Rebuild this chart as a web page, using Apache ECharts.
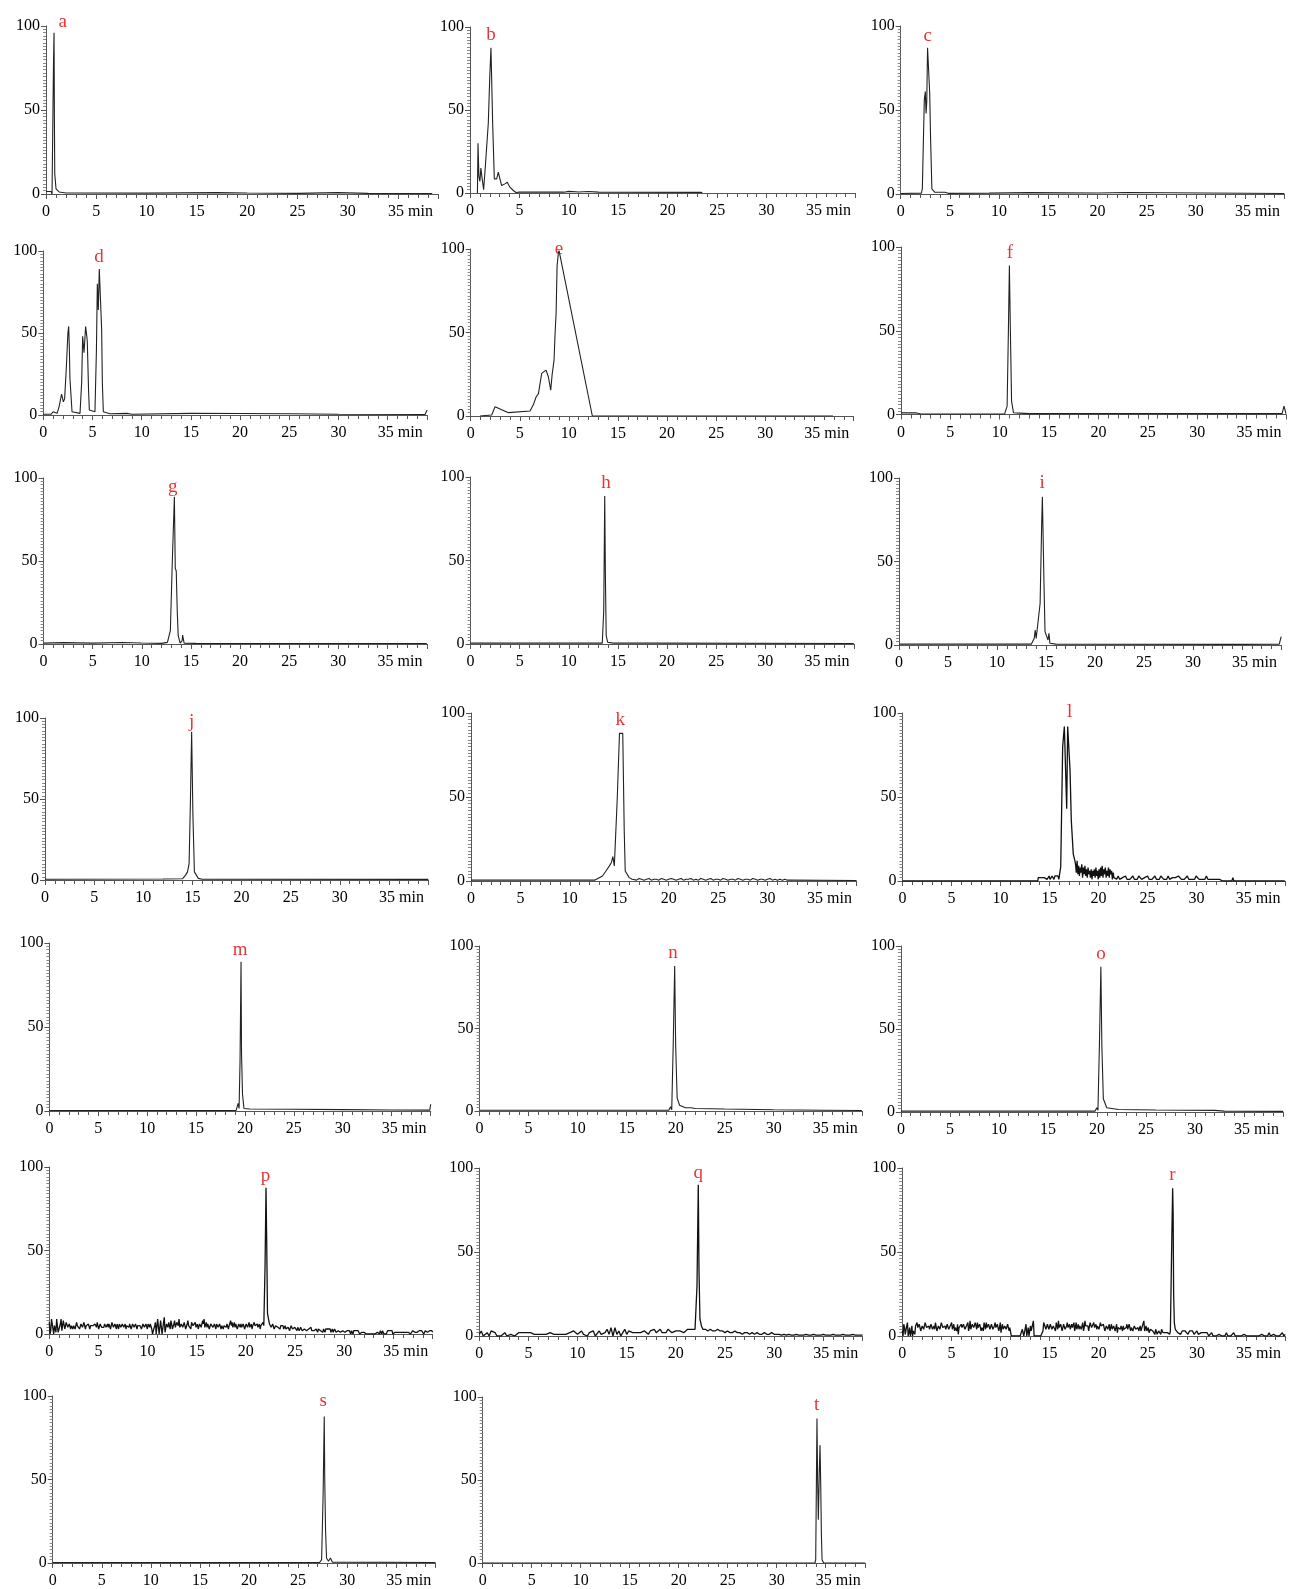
<!DOCTYPE html>
<html><head><meta charset="utf-8">
<script src="https://cdn.jsdelivr.net/npm/echarts@6/dist/echarts.min.js"></script>
<style>html,body{margin:0;padding:0;background:#fff}#c{width:1290px;height:1589px}</style>
</head><body><div id="c"></div>
<script>
// ---------- DATA ----------
const letters = ['a','b','c','d','e','f','g','h','i','j','k','l','m','n','o','p','q','r','s','t'];
const xTicks = [0,5,10,15,20,25,30,35];
const yTicks = [0,50,100];
const letterX = [1.66,2.12,2.74,5.66,9.0,11.04,13.15,13.78,14.6,14.92,15.1,17.04,19.5,19.73,20.4,22.0,22.28,27.5,27.57,34.08];
const letterY = [102.4,95.2,94.0,96.5,100,96.4,94.8,96.4,97,97.7,95.8,100.8,95.8,95.8,95.2,94.6,97,95.8,96.7,95.2];

const trace_a = [[0,1.5],[0.5,1.5],[0.6,0],[0.7,0],[0.75,80],[0.8,96],[0.84,40],[0.87,12],[1.0,3],[1.3,1.2],[2,0.6],[10,0.5],[17,0.8],[20,0.6],[25,0.4],[29,0.8],[32,0.4],[38.4,0.3]];
const trace_b = [[0.75,0],[0.81,30],[0.9,10],[1.0,7],[1.1,15],[1.2,10],[1.38,2],[1.6,20],[1.85,42],[2.0,70],[2.12,87.5],[2.3,40],[2.46,8.5],[2.7,8.5],[2.86,12.5],[3.03,11.5],[3.2,4.5],[3.53,5.5],[3.77,6.5],[4.04,3.5],[4.38,1.5],[4.65,0.3],[5,0.5],[9.5,0.5],[10,1],[11,0.6],[12,0.9],[13,0.5],[23.4,0.4],[23.5,0]];
const trace_c = [[0,0.3],[2.1,0.5],[2.2,3],[2.3,30],[2.4,56],[2.5,61],[2.58,48],[2.65,55],[2.73,87],[2.87,87],[2.95,60],[3.03,35],[3.17,3],[3.47,1],[4.49,1],[4.66,1.5],[4.83,0.4],[9,0.5],[13,0.8],[20,0.6],[23,0.9],[39,0.3]];
const trace_d = [[0,0.5],[0.8,0.5],[1.0,2],[1.2,1],[1.4,1],[1.6,5],[1.86,12.8],[2.04,8],[2.17,10],[2.35,30],[2.5,50],[2.58,54],[2.65,40],[2.71,22],[2.92,2],[3.73,1],[3.9,20],[4.0,48],[4.14,38],[4.3,54],[4.4,49],[4.47,45],[4.6,15],[4.68,3],[5.25,2],[5.4,40],[5.49,80],[5.59,64],[5.69,89],[5.82,89],[5.93,52],[6.0,20],[6.1,2],[6.77,0.8],[8.5,1],[9,0.5],[15,1],[20,0.9],[25,0.8],[30,0.5],[38.8,0.3],[39,3]];
const trace_e = [[0.95,0],[2.14,0.6],[2.48,5.6],[3.84,2],[6.05,3],[6.4,7],[6.66,11.4],[6.9,13.4],[7.06,12.4],[7.23,25.5],[7.67,27.5],[7.91,23.5],[8.15,15.5],[8.3,25],[8.49,33.5],[8.6,50],[8.7,61.5],[8.8,90],[8.93,97.4],[9.0,99],[12.39,0],[36.9,0]];
const trace_f = [[0,1],[1.5,1],[2,0.3],[10.5,0.4],[10.75,5],[10.88,50],[10.98,89],[11.08,50],[11.2,8],[11.4,1],[12,0.8],[13,0.5],[38.6,0.5],[38.8,5],[39,0.5]];
const trace_g = [[0,0.5],[2,0.8],[5,0.5],[8,0.9],[10,0.6],[12,0.4],[12.6,1],[12.9,8],[13.1,50],[13.31,88.7],[13.4,45.6],[13.5,44],[13.6,20],[13.7,5],[13.9,0.5],[14.1,2],[14.15,5.4],[14.3,0.5],[15.5,0.4],[39,0.3]];
const trace_h = [[0,0.5],[10.2,0.5],[10.4,1.2],[10.6,0.5],[13.4,0.5],[13.55,20],[13.65,88.6],[13.72,40],[13.8,5],[13.95,1],[14.5,0.5],[18.3,0.5],[18.5,1.2],[18.7,0.5],[39,0.3]];
const trace_i = [[0,0.5],[13.5,0.5],[13.8,4],[13.9,9],[14.0,4],[14.2,3],[14.4,25],[14.55,70],[14.63,88.8],[14.7,66.9],[14.8,35],[14.9,8],[15.2,3],[15.3,7],[15.4,1],[16,0.5],[35,0.4],[38.8,0.5],[39,5]];
const trace_j = [[0,0.5],[12,0.6],[14,0.8],[14.3,3],[14.5,5],[14.66,10],[14.8,50],[14.92,91.5],[15.05,40],[15.2,5],[15.6,1],[16,0.5],[39,0.4]];
const trace_k_pre = [[0,0.5],[12.5,0.5],[13.3,3],[13.6,5.5],[14.0,9],[14.2,11],[14.35,14.5],[14.5,9],[14.62,10],[14.8,50],[15.02,87.9],[15.35,87.9],[15.5,30],[15.6,6],[16.0,2],[16.3,1]];
const noise_k = [1,0.5,1.5,1,0.5,1,1.5,0.5,1,1,0.5,1.5,1,0.5,1,1.5,1,0.5,1,1.5,0.5,1,1,1.5,0.5,1,0.5,1.5,1,0.5,1,1.5,0.5,1,1,0.5,1.5,1,0.5,1,1,0.5,1.5,1,0.5,1,1,0.5,1.5,1,0.5,1,1,0.5,1,1.5,0.5,1,0.5,1,0.5,1,0.5];
const trace_k_post = [[32.2,0.5],[39,0.3]];
const trace_l_pre = [[0,0],[13.8,0]];
const noise_l1 = [2,1,3,2,1,3,2,2,3,1,2,3,1,2,3,2,1,3,2,2,3,1,2];
const trace_l_peak = [[16.14,8.5],[16.34,80],[16.51,92],[16.68,91.7],[16.75,43],[16.85,92],[16.99,92],[17.09,66],[17.22,36],[17.42,16],[17.59,12]];
const noise_l2 = [10,5,12,4,9,3,8,5,10,2,8,4,9,3,7,2,8,4,6,2,7,1,6,3,7,2,8,3,6,1,7,2,8,3,9,2,7,4,8,2,6,3,8,2,7,4,6,1,5,2];
const noise_l3 = [2,1,3,1,2,2,1,3,1,2,1,2,3,1,2,1,3,2,1,2,2,1,3,1,2,1,2,3,1,2,1,3,2,1,2,1,3,1,2,2,1,2,1,3,2,1,2,1,2,3,1,2,1,2,1,3,2,1,2,1,2,1,3,1,2,1,0,1,2,1,0,1,2,0,1,0,0];
const trace_l_post = [[33.6,0],[33.7,2],[33.8,0],[34.8,0],[34.9,1],[35,0],[39,0]];
const trace_m = [[0,0.3],[19.1,0.4],[19.3,4.6],[19.4,1.5],[19.5,30],[19.6,88.9],[19.65,35],[19.75,10],[19.9,1.5],[20.5,1.2],[25,1],[30,0.8],[35,0.6],[38.9,0.5],[39,4]];
const trace_n = [[0,0.5],[19.3,0.5],[19.48,2.6],[19.6,0.8],[19.75,40],[19.9,87.9],[20.0,40],[20.15,8],[20.4,3.5],[21,2],[21.58,2],[22,1.5],[25,1.2],[30,0.8],[35,0.5],[39,0.3]];
const trace_o = [[0,0.5],[19.8,0.5],[19.98,2.6],[20.1,1],[20.25,40],[20.4,87.5],[20.5,40],[20.65,8],[21,2.6],[22.2,1.5],[26,1.2],[32,1],[33,0.5],[39,0.4]];
const noise_p1 = [7,2,8,0,6,9,1,0,9,3, 8,5,6,4,7,5,3,6,4,5, 6,4,5,3,6,5,4,7,5,4, 5,6,4,5,3,6,5,4,6,5, 4,6,5,7,4,5,6,3,5,4, 6,5,3,5,4,6,2,5,4,6, 5,4,6,3,5,4,5,6,4,5, 0,0,7,0,10,1,9,0,10,2, 5,7,3,6,4,8,3,6,9,4, 7,3,6,4,8,5,3,6,4,7, 5,3,6,4,8,9,5,4,6,3, 5,4,6,3,5,4,6,5,3,6, 4,6,5,8,7,5,4,6,3,5, 6,4,5,3,6,5,4,6,5,7, 4,6,5,3,5,7];
const noise_p1b = [0,9,3,5,1,8,0,6,2,8, 3,7,4,6,3,6,5,3,7,4, 3,6,4,7,3,5,6,3,6,5, 4,5,7,3,6,4,3,6,4,6, 6,3,7,4,6,3,5,6,4,6, 4,6,5,4,6,3,6,4,6,3, 6,5,3,6,4,6,3,5,6,3, 0,5,0,9,0,8,0,7,1,6, 4,6,8,3,6,4,7,5,4,6, 4,7,3,6,5,4,7,5,6,4, 6,4,7,5,6,4,7,6,3,6, 6,3,5,6,4,6,3,6,5,4, 6,3,6,5,4,7,6,3,6,4, 4,6,3,6,4,7,5,3,6,5, 6,4,6,5,4,5];
const trace_p_peak = [[21.85,5],[21.95,40],[22.05,87.6],[22.12,55],[22.2,12.4],[22.3,9],[22.4,6]];
const noise_p2 = [5,4,5,3,5,4,3,5,4,3, 5,3,4,2,5,3,4,3,2,4, 3,4,2,3,4,2,3,3,2,3, 2,3,1,3,2,2,3,1,2,3, 2,1,3,2,2,1,2,3,1,2, 2,1,2,1,1,2,0,1,2,1, 1,0,1,2,0,0,0,0,0,0, 0,0,0,1,0,1,2,0,1,1, 1,2,1,0,1,2,1,1,2,1, 2,1,1,2,1,0,1,2,1,1, 1,2,1,1,0,2,1,1,2,1, 1];
const noise_p2b = [4,6,3,5,4,5,3,4,5,4, 3,4,5,3,4,2,4,3,4,2, 4,2,3,4,2,3,2,4,3,2, 3,2,3,2,3,1,2,3,2,2, 3,2,1,3,1,2,3,1,2,2, 1,2,1,2,0,1,2,1,1,2, 0,1,0,1,0,0,0,0,0,0, 0,0,1,0,2,0,1,1,0,2, 2,1,2,1,1,1,2,1,1,2, 1,2,1,1,2,1,2,1,2,1, 2,1,2,1,1,2,1,2,1,2];
const noise_q1 = [1,3,0,1,2,0,3,4,2,0, 0,0,0,2,0,0,1,0,0,1, 2,1,2,1,2,1,2,2,1,2, 1,2,1,2,1,2,2,1,1,2, 1,2,1,2,1,1,2,1,3,2, 1,2,3,1,2,0,2,1,3,0, 0,3,1,0,2,4,1,5,0,5, 1,3,0,2,4,1,3,2,2,3, 2,3,2,2,3,2,1,3,2,4, 2,3,4,2,3,2,4,3,2,3, 3,2,3,4,2,3,4,3,4,4];
const trace_q_peak = [[21.95,4],[22.15,30],[22.28,90],[22.35,40],[22.45,10],[22.6,6]];
const noise_q2 = [4,4,3,4,3,3,4,3,3,2, 3,2,2,3,2,2,1,2,2,1, 2,1,2,1,1,2,1,1,2,1, 1,1,0.5,1,0.5,1,0.5,0.5,1,0.5, 0.5,0.5,1,0.5,0.5,1,0.5,0.5,0.5,1, 0.5,0.5,0.5,1,0.5,0.5,0.5,1,0.5,0.5, 0.5,1,0.5,0.5,0.5,0.5];
const noise_r1 = [3,7,1,6,0,5,2,0,4,6, 8,4,7,3,6,5,8,4,6,3, 7,5,4,8,3,6,5,7,4,6, 5,8,3,6,4,7,5,3,1,6, 7,4,8,5,6,3,9,5,7,4, 6,8,4,7,5,3,6,8,4,6, 5,7,3,8,4,6,5,2,7,4, 6,3,8,5,0,0,0,0,0,0, 0,0,5,0,7,0,0,6,2,9, 0,0,0,0,0,0,8,9,3,6, 5,8,4,7,3,6,9,4,6,5, 7,3,8,5,4,7,6,3,8,5, 4,7,6,3,9,5,6,4,7,5, 8,6,4,7,3,6,5,8,4,6, 5,3,7,4,6,5,2,6,4,5, 6,3,5,4,7,3,5,4,6,3, 5,4,3,6,9,4,3,5,2,4, 3,2,4,1,3,2,4,2,1,3, 2,3];
const noise_r1b = [0,5,0,8,2,0,6,3,1,7, 5,7,3,6,4,8,5,6,4,7, 4,6,8,3,6,4,8,5,6,4, 7,4,6,8,5,3,6,7,5,4, 5,7,4,6,8,5,4,7,5,8, 4,5,7,3,6,8,4,5,7,4, 7,4,6,5,7,3,8,5,4,6, 4,7,3,6,0,0,0,0,0,0, 0,4,0,0,0,5,0,3,7,0, 0,0,0,0,0,3,9,4,7,4, 7,4,6,5,8,4,5,7,3,7, 4,6,5,7,3,5,8,5,4,7, 6,4,8,5,6,7,3,8,5,6, 5,7,6,4,8,5,7,3,6,4, 7,5,4,6,3,7,5,4,6,3, 4,5,7,3,6,5,3,6,4,5, 3,6,4,5,3,6,4,2,4,3, 4,1,3,2,4,1,3,3,2,2, 3,1];
const trace_r_peak = [[27.3,3],[27.45,60],[27.53,88],[27.58,73],[27.63,25],[27.7,8],[27.8,4]];
const noise_r2 = [3,2,3,1,3,2,3,2,1,3, 2,3,1,2,3,1,2,2,1,2, 1,2,0,1,2,0,1,0,0,1, 0,0,0,0,2,0,0,0,0,2, 0,0,0,0,0,0,1,0,0,0, 0,0,0,0,0,0,0,0,1,2, 0,1,0,2,0,0,1,0,0,1, 0,1,2,0,1];
const trace_s = [[0,0.3],[27.2,0.3],[27.4,2],[27.55,40],[27.67,87.7],[27.72,50],[27.8,20],[27.9,3],[28.1,1],[28.3,3],[28.5,0.5],[39,0.3]];
const trace_t = [[0,0],[33.9,0],[33.98,2],[34.11,87.1],[34.18,48],[34.25,26],[34.35,56],[34.42,71],[34.49,48],[34.56,17],[34.63,2],[34.8,0],[39,0]];

// sampled noise segments (start time, sampling step); second array = samples taken half a step later
function seq(t0, dt, vals, half) {
  const out = [];
  vals.forEach((v, k) => {
    out.push([+(t0 + k * dt).toFixed(3), v]);
    if (half && k < half.length) out.push([+(t0 + (k + 0.5) * dt).toFixed(3), half[k]]);
  });
  return out;
}

const traces = [
  trace_a, trace_b, trace_c, trace_d, trace_e, trace_f, trace_g, trace_h, trace_i, trace_j,
  [...trace_k_pre, ...seq(16.5, 0.25, noise_k), ...trace_k_post],
  [...trace_l_pre, ...seq(13.85, 0.1, noise_l1), ...trace_l_peak, ...seq(17.65, 0.08, noise_l2), ...seq(21.7, 0.15, noise_l3), ...trace_l_post],
  trace_m, trace_n, trace_o,
  [...seq(0, 0.15, noise_p1, noise_p1b), ...trace_p_peak, ...seq(22.5, 0.15, noise_p2, noise_p2b)],
  [...seq(0, 0.2, noise_q1), ...trace_q_peak, ...seq(22.75, 0.25, noise_q2)],
  [...seq(0, 0.15, noise_r1, noise_r1b), ...trace_r_peak, ...seq(27.9, 0.15, noise_r2)],
  trace_s, trace_t
];

// ---------- LAYOUT (pixel positions of each panel: y-axis x, y of 100, y of 0, x of tick 35) ----------
const layout = [
  [46,26,194,398],[470,27,193,816],[900.7,26,194,1245],
  [43.3,251,415,387.7],[470.7,249,416,814.3],[901,247,414.5,1246.5],
  [43.6,478,644,387.5],[470.6,477,644,814.5],[899,478,645,1242],
  [45,718,880,389],[471,713,881,817],[902.5,713,881,1245.6],
  [49.4,943,1111,391.6],[479.6,946,1111,822.7],[900.9,946,1112,1244],
  [49.3,1167,1334,393.3],[479.3,1168,1336,823.3],[902.3,1168,1336,1246],
  [52.7,1396,1564,396.2],[482.7,1397,1563,825.7]
];
const heavy = ['l','p','q','r'];
const XMAX = 39;
const FONT = 'Liberation Serif';
const AX = '#555';

const grids = [], xAxes = [], yAxes = [], series = [];
letters.forEach((L, i) => {
  const [x0, y100, y0, x35] = layout[i];
  const w = (x35 - x0) / 35 * XMAX;
  grids.push({ left: x0, top: y100, width: w, height: y0 - y100, containLabel: false });
  xAxes.push({
    gridIndex: i, type: 'value', min: 0, max: XMAX, interval: 5,
    axisLine: { show: true, onZero: false, lineStyle: { color: AX, width: 1 } },
    axisTick: { show: true, length: 5, lineStyle: { color: AX } },
    minorTick: { show: true, splitNumber: 5, length: 4, lineStyle: { color: AX } },
    splitLine: { show: false }, minorSplitLine: { show: false },
    axisLabel: {
      margin: 10, color: '#000', fontFamily: FONT, fontSize: 16,
      formatter: v => v === 35 ? '{m|35 min}' : (xTicks.indexOf(v) >= 0 ? String(v) : ''),
      rich: { m: { fontFamily: FONT, fontSize: 16, color: '#000', padding: [0, 0, 0, 25] } }
    }
  });
  yAxes.push({
    gridIndex: i, type: 'value', min: 0, max: 100, interval: 50,
    axisLine: { show: true, lineStyle: { color: AX, width: 1 } },
    axisTick: { show: true, length: 5, lineStyle: { color: AX } },
    minorTick: { show: true, splitNumber: 25, length: 3, lineStyle: { color: '#888' } },
    splitLine: { show: false }, minorSplitLine: { show: false },
    axisLabel: { margin: 6, color: '#000', fontFamily: FONT, fontSize: 16,
      formatter: v => yTicks.indexOf(v) >= 0 ? String(v) : '' }
  });
  const isHeavy = heavy.indexOf(L) >= 0;
  series.push({
    type: 'line', xAxisIndex: i, yAxisIndex: i, data: traces[i],
    showSymbol: false, symbol: 'none', silent: true, animation: false,
    lineStyle: { color: isHeavy ? '#111' : '#222', width: isHeavy ? 1.3 : 1.1 }, z: 3
  });
  series.push({
    type: 'scatter', xAxisIndex: i, yAxisIndex: i, data: [[letterX[i], letterY[i]]],
    symbolSize: 1, itemStyle: { color: 'rgba(0,0,0,0)' }, clip: false, silent: true, animation: false,
    label: { show: true, position: 'inside', formatter: L, color: '#e00000', fontFamily: FONT, fontSize: 19 }, z: 5
  });
});

const chart = echarts.init(document.getElementById('c'), null, { renderer: 'canvas' });
chart.setOption({ backgroundColor: '#fff', animation: false, grid: grids, xAxis: xAxes, yAxis: yAxes, series: series });
</script></body></html>
